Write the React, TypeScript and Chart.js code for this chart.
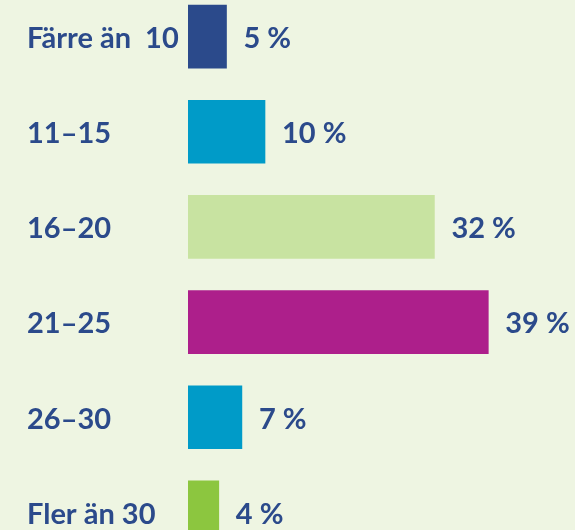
import React, { useEffect, useRef } from "react";
import { Chart, registerables } from "chart.js";

Chart.register(...registerables);

const categories = ["Färre än  10", "11–15", "16–20", "21–25", "26–30", "Fler än 30"];
const values = [5, 10, 32, 39, 7, 4];
const barColors = ["#2b4a8b", "#009bc8", "#c8e3a1", "#ad1f8b", "#009bc8", "#8cc63f"];
const valueSuffix = " %";

const TEXT = "#2b4a8b";
const BG = "#eef5e2";
const FONT = { family: "Lato", size: 29, weight: "bold" as const };

const valueLabelPlugin = {
  id: "valueLabels",
  afterDatasetsDraw(chart: any) {
    const ctx = chart.ctx;
    const meta = chart.getDatasetMeta(0);
    ctx.save();
    ctx.font = "bold 29px Lato";
    ctx.fillStyle = TEXT;
    ctx.textAlign = "left";
    ctx.textBaseline = "middle";
    meta.data.forEach((bar: any, i: number) => {
      ctx.fillText(values[i] + valueSuffix, bar.x + 17, bar.y + 2);
    });
    ctx.restore();
  },
};

export default function App() {
  const ref = useRef<HTMLCanvasElement>(null);
  useEffect(() => {
    document.body.style.margin = "0";
    document.body.style.background = BG;
    const chart = new Chart(ref.current!, {
      type: "bar",
      data: {
        labels: categories,
        datasets: [
          {
            data: values,
            backgroundColor: barColors,
            borderWidth: 0,
            barThickness: 63,
          },
        ],
      },
      options: {
        indexAxis: "y",
        animation: false,
        responsive: false,
        devicePixelRatio: 1,
        layout: { padding: { left: 27, right: 2, top: 0, bottom: 0 } },
        plugins: { legend: { display: false }, tooltip: { enabled: false } },
        scales: {
          x: { display: false, min: 0, max: 50 },
          y: {
            grid: { display: false, drawTicks: false },
            border: { display: false },
            ticks: {
              color: TEXT,
              font: FONT,
              crossAlign: "far",
              padding: 0,
              labelOffset: 2,
            },
            afterFit: (scale: any) => {
              scale.width = 161;
              scale.paddingTop = 0;
              scale.paddingBottom = 0;
            },
          },
        },
      },
      plugins: [valueLabelPlugin],
    });
    return () => chart.destroy();
  }, []);
  return (
    <div style={{ position: "fixed", left: 0, top: -11, width: 575, height: 571, background: BG }}>
      <canvas ref={ref} width={575} height={571} style={{ display: "block" }} />
    </div>
  );
}
